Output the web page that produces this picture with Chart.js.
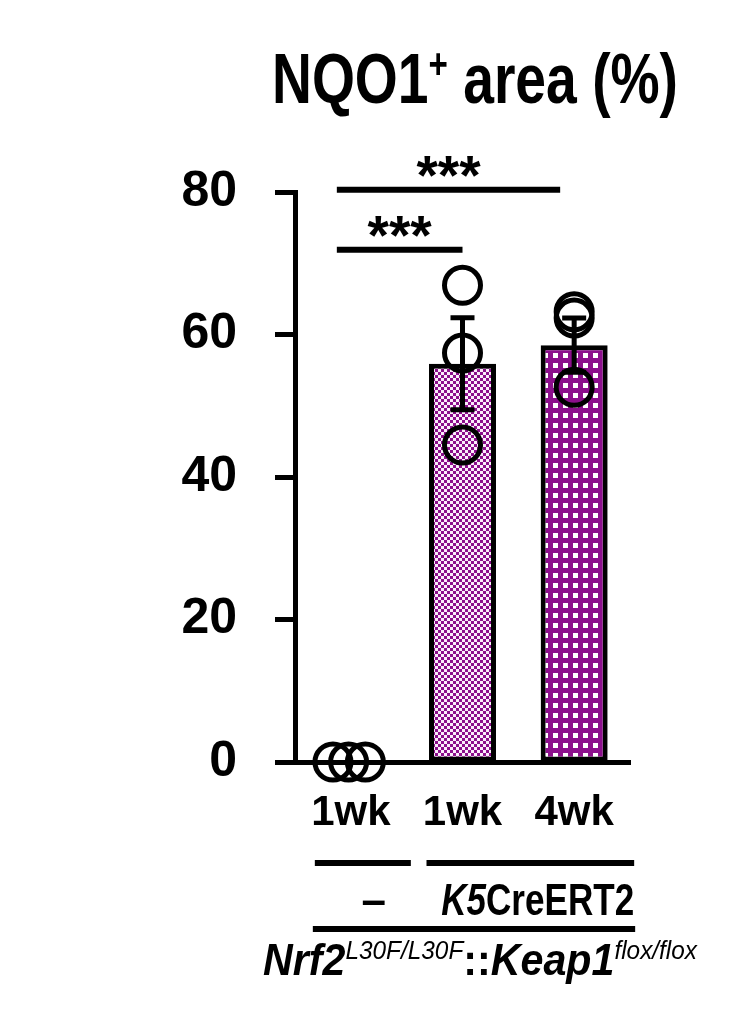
<!DOCTYPE html>
<html><head><meta charset="utf-8">
<script src="https://cdn.jsdelivr.net/npm/chart.js@4/dist/chart.umd.min.js"></script>
<style>html,body{margin:0;padding:0;background:#fff}#wrap{position:absolute;left:0;top:0;width:753px;height:1024px}</style>
</head><body><div id="wrap"><canvas id="c" width="753" height="1024"></canvas></div>
<script>
// ---- data ----
const categories = ['1wk', '1wk', '4wk'];
const barMeans = [0, 55.9, 58.5];
const barSem = [0, 6.45, 3.8];
const pointsX = [-0.16, -0.02, 0.13, 1, 1, 1, 2, 2, 2];
const pointsY = [0, 0, 0, 66.9, 57.4, 44.5, 63.2, 62.3, 52.6];
const yTickValues = [0, 20, 40, 60, 80];
const sigFrom = [0, 0];
const sigTo = [1, 2];
const sigLevel = [71.9, 80.3];
const sigLabel = ['***', '***'];
const titleParts = ['NQO1', '+', ' area (%)'];
const groupNames = ['\u2013', 'CreERT2'];
const groupPrefix = ['', 'K5'];
const groupFirst = [0, 1];
const groupLast = [0, 2];
const genotypeParts = ['Nrf2', 'L30F/L30F', '::', 'Keap1', 'flox/flox'];

// ---- styles ----
const FONT = '"Liberation Sans", Arial, Helvetica, sans-serif';
const PURPLE = '#8c0f8c';
function makePattern(kind) {
  const t = document.createElement('canvas');
  const g = t.getContext('2d');
  if (kind === 'checker') {
    t.width = 6; t.height = 6;
    g.fillStyle = '#fbeefb'; g.fillRect(0, 0, 6, 6);
    g.fillStyle = PURPLE; g.fillRect(0, 0, 3, 3); g.fillRect(3, 3, 3, 3);
  } else {
    t.width = 10; t.height = 10;
    g.fillStyle = PURPLE; g.fillRect(0, 0, 10, 10);
    g.fillStyle = '#ffffff'; g.fillRect(3, 3, 5, 5);
  }
  return g.createPattern(t, 'repeat');
}
const barFills = ['#ffffff', makePattern('checker'), makePattern('grid')];

function drawRuns(ctx, runs, x, y, targetW, align) {
  ctx.save();
  let w = 0;
  runs.forEach(r => { ctx.font = r.f; r.w = ctx.measureText(r.t).width; w += r.w; });
  const sx = targetW ? targetW / w : 1;
  const x0 = align === 'right' ? x - w * sx : align === 'center' ? x - w * sx / 2 : x;
  ctx.translate(x0, y); ctx.scale(sx, 1);
  ctx.fillStyle = '#000'; ctx.textBaseline = 'alphabetic'; ctx.textAlign = 'left';
  let cx = 0;
  runs.forEach(r => { ctx.font = r.f; ctx.fillText(r.t, cx, -(r.dy || 0)); cx += r.w; });
  ctx.restore();
}

const annot = {
  id: 'annot',
  afterDatasetsDraw(chart) {
    const ctx = chart.ctx;
    const xs = chart.scales.xp, ys = chart.scales.y;
    ctx.save();
    ctx.strokeStyle = '#000'; ctx.lineCap = 'butt';
    ctx.lineWidth = 5;
    barMeans.forEach((m, i) => {
      const s = barSem[i];
      if (!s) return;
      const cx = xs.getPixelForValue(i);
      const yt = ys.getPixelForValue(m + s), yb = ys.getPixelForValue(m - s);
      ctx.beginPath();
      ctx.moveTo(cx, yt); ctx.lineTo(cx, yb);
      ctx.moveTo(cx - 12, yt); ctx.lineTo(cx + 12, yt);
      ctx.moveTo(cx - 12, yb); ctx.lineTo(cx + 12, yb);
      ctx.stroke();
    });
    ctx.restore();
  },
  afterDraw(chart) {
    const ctx = chart.ctx;
    const xs = chart.scales.xp, ys = chart.scales.y;
    ctx.save();
    ctx.strokeStyle = '#000'; ctx.fillStyle = '#000';
    drawRuns(ctx, [
      { t: titleParts[0], f: 'bold 70px ' + FONT },
      { t: titleParts[1], f: 'bold 42px ' + FONT, dy: 25 },
      { t: titleParts[2], f: 'bold 70px ' + FONT }
    ], 272, 103, 406, 'left');
    const endOff = [0, -14];
    sigLevel.forEach((lv, i) => {
      const x1 = xs.getPixelForValue(sigFrom[i]) - 14;
      const x2 = xs.getPixelForValue(sigTo[i]) + endOff[i];
      const y = ys.getPixelForValue(lv);
      ctx.lineWidth = 6;
      ctx.beginPath(); ctx.moveTo(x1, y); ctx.lineTo(x2, y); ctx.stroke();
      ctx.font = 'bold 55px ' + FONT; ctx.textAlign = 'center'; ctx.textBaseline = 'alphabetic';
      ctx.fillText(sigLabel[i], (x1 + x2) / 2, y + 4);
    });
    const lineY = 863, labelBase = 915, longY = 929;
    ctx.lineWidth = 6;
    groupNames.forEach((name, i) => {
      const x1 = xs.getPixelForValue(groupFirst[i]) - 36;
      const x2 = xs.getPixelForValue(groupLast[i]) + 60;
      ctx.beginPath(); ctx.moveTo(x1, lineY); ctx.lineTo(x2, lineY); ctx.stroke();
      if (groupPrefix[i]) {
        drawRuns(ctx, [
          { t: groupPrefix[i], f: 'italic bold 44px ' + FONT },
          { t: name, f: 'bold 44px ' + FONT }
        ], x2, labelBase, 193, 'right');
      } else {
        drawRuns(ctx, [{ t: name, f: 'bold 44px ' + FONT }], xs.getPixelForValue(groupFirst[i]) + 23, labelBase, 0, 'center');
      }
    });
    const lx1 = xs.getPixelForValue(groupFirst[0]) - 38;
    const lx2 = xs.getPixelForValue(groupLast[groupLast.length - 1]) + 61;
    ctx.beginPath(); ctx.moveTo(lx1, longY); ctx.lineTo(lx2, longY); ctx.stroke();
    drawRuns(ctx, [
      { t: genotypeParts[0], f: 'italic bold 44px ' + FONT },
      { t: genotypeParts[1], f: 'italic 26px ' + FONT, dy: 16 },
      { t: genotypeParts[2], f: 'bold 44px ' + FONT },
      { t: genotypeParts[3], f: 'italic bold 44px ' + FONT },
      { t: genotypeParts[4], f: 'italic 26px ' + FONT, dy: 16 }
    ], 263, 975, 434, 'left');
    ctx.restore();
  }
};

new Chart(document.getElementById('c'), {
  type: 'bar',
  data: {
    labels: categories,
    datasets: [
      {
        type: 'scatter',
        data: pointsX.map((x, i) => ({ x: x, y: pointsY[i] })),
        xAxisID: 'xp', yAxisID: 'y',
        pointRadius: 18, pointBorderWidth: 5, pointHoverRadius: 18,
        borderColor: '#000', backgroundColor: 'rgba(0,0,0,0)',
        showLine: false, clip: false, order: 1
      },
      {
        type: 'bar',
        data: barMeans,
        xAxisID: 'x', yAxisID: 'y',
        backgroundColor: barFills, borderColor: '#000', borderWidth: 5,
        borderSkipped: false, grouped: false,
        barPercentage: 0.6, categoryPercentage: 1, order: 2
      }
    ]
  },
  options: {
    responsive: false, animation: false, devicePixelRatio: 1,
    layout: { padding: { left: 0, right: 123, top: 192, bottom: 0 } },
    plugins: { legend: { display: false }, tooltip: { enabled: false }, title: { display: false } },
    events: [],
    scales: {
      x: {
        type: 'category', position: 'bottom', offset: true,
        grid: { display: true, drawOnChartArea: false, drawTicks: false, offset: true },
        border: { display: true, color: '#000', width: 5 },
        ticks: { color: '#000', font: { family: FONT, weight: 'bold', size: 42 }, padding: 26, maxRotation: 0 },
        afterFit(s) { s.height = 262; }
      },
      xp: { type: 'linear', display: false, offset: false, min: -0.5, max: 2.5, grid: { offset: false } },
      y: {
        min: 0, max: 80,
        afterBuildTicks(s) { s.ticks = yTickValues.map(v => ({ value: v })); },
        grid: { display: true, drawOnChartArea: false, drawTicks: true, tickLength: 20, tickWidth: 5, tickColor: '#000' },
        border: { display: true, color: '#000', width: 5 },
        ticks: { color: '#000', font: { family: FONT, weight: 'bold', size: 50 }, padding: 38 },
        afterFit(s) { s.width = 295; }
      }
    }
  },
  plugins: [annot]
});
</script>
</body></html>
